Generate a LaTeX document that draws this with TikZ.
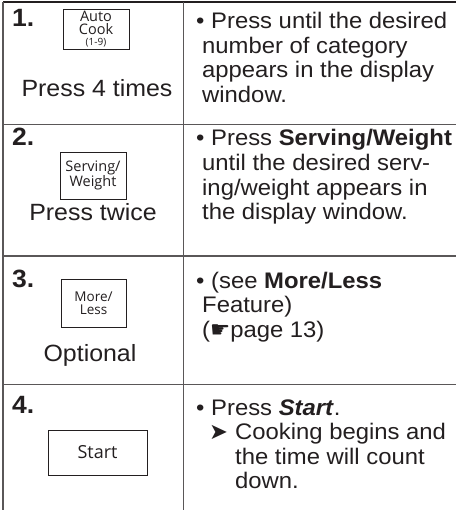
\documentclass[tikz,border=0pt]{standalone}
\usepackage{fontspec}
\setmainfont{Liberation Sans}[FakeStretch=1.06]
\newfontfamily\keyfont{Open Sans}
\newfontfamily\symfont{DejaVu Sans}
\definecolor{ink}{HTML}{231F20}
\begin{document}
\begin{tikzpicture}
[x=1pt,y=-1pt,
 rulestyle/.style={line width=1.6pt,draw=ink!75},%
 keystyle/.style={draw=ink,line width=0.8pt,inner sep=0pt,align=center,text=ink,%
   font=\keyfont\fontsize{14.5}{15}\selectfont},%
 numstyle/.style={anchor=base west,inner sep=0pt,text=ink,%
   font=\fontsize{25}{25}\selectfont\bfseries},%
 captionstyle/.style={anchor=base,inner sep=0pt,text=ink,%
   font=\fontsize{23.5}{24}\selectfont},%
 textstyle/.style={anchor=base west,inner sep=0pt,align=left,text=ink,%
   font=\fontsize{22.5}{24.5}\selectfont}]
\useasboundingbox[fill=white] (0,0) rectangle (456,510);
%% table rules
\draw[rulestyle,draw=ink] (3,2) -- (456,2);
\foreach \y in {124.5,256,384.5}
  \draw[rulestyle] (3,\y) -- (456,\y);
\draw[rulestyle] (3,2) -- (3,510);
\draw[rulestyle] (183.5,2) -- (183.5,510);
%% step numbers
\node[numstyle] (num1) at (12,27) {1.};
\node[numstyle] (num2) at (12,146) {2.};
\node[numstyle] (num3) at (12,287) {3.};
\node[numstyle] (num4) at (12,413) {4.};
%% keys
\node[keystyle,minimum width=66pt,minimum height=40pt] (autocook) at (96,29)
  {Auto\\[-2pt]Cook\\[-3.5pt]{\fontsize{10}{10}\selectfont(1-9)}};
\node[keystyle,minimum width=66pt,minimum height=47pt] (serving) at (93,175.5)
  {Serving/\\Weight};
\node[keystyle,minimum width=65pt,minimum height=48pt,%
  font=\keyfont\fontsize{13.5}{13}\selectfont] (moreless) at (93.5,303)
  {More/\\Less};
\node[keystyle,minimum width=99pt,minimum height=45pt,%
  font=\keyfont\fontsize{18}{18}\selectfont] (start) at (97.5,452.5) {Start};
%% captions under the keys
\node[captionstyle] (cap1) at (97,97) {Press 4 times};
\node[captionstyle] (cap2) at (93,221) {Press twice};
\node[captionstyle] (cap3) at (90,361) {Optional};
%% instructions (anchored on the baseline of the last line)
\node[textstyle] (text1) at (202,102.5)
  {\hspace*{-6pt}• Press until the desired\\number of category\\appears in the display\\window.};
\node[textstyle] (text2) at (202,219.5)
  {\hspace*{-6pt}• Press \textbf{Serving/Weight}\\until the desired serv-\\ing/weight appears in\\the display window.};
\node[textstyle] (text3) at (202,337)
  {\hspace*{-6pt}• (see \textbf{More/Less}\\Feature)\\({\symfont ☛}page 13)};
\node[textstyle] (text4) at (202,488.5)
  {\hspace*{-6pt}• Press \textbf{\textit{Start}}.\\
   \hspace*{7pt}\makebox[26pt][l]{\symfont ➤}Cooking begins and\\
   \hspace*{33pt}the time will count\\
   \hspace*{33pt}down.};
\end{tikzpicture}
\end{document}
